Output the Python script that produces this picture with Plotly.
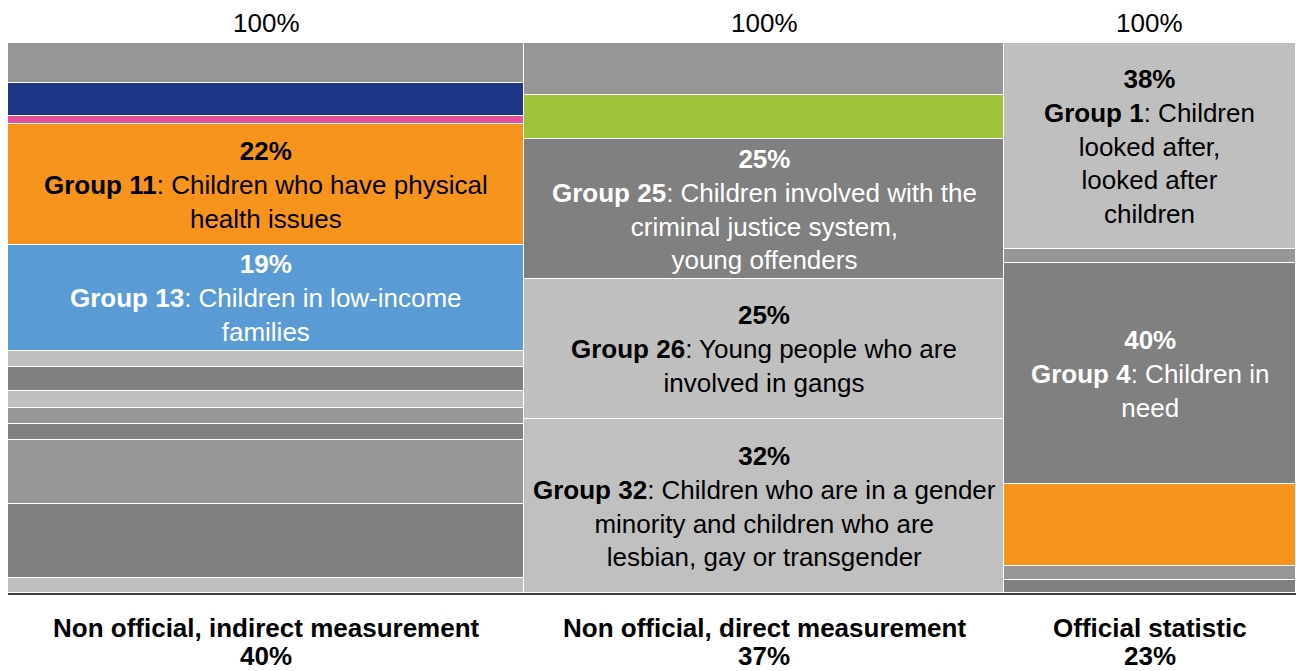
import plotly.graph_objects as go

# ---- data ----
columns = ["Non official, indirect measurement", "Non official, direct measurement", "Official statistic"]
column_widths = [40.1, 37.2, 22.7]
column_labels = ["40%", "37%", "23%"]
column_totals = ["100%", "100%", "100%"]

# segment shares, listed top to bottom
col1_values = [7.3, 6.0, 1.5, 22.0, 19.2, 2.9, 4.4, 3.1, 2.8, 3.0, 11.7, 13.4, 2.7]
col2_values = [9.5, 8.0, 25.4, 25.5, 31.6]
col3_values = [37.5, 2.5, 40.2, 14.9, 2.5, 2.4]

MID, DARK, LIGHT = "#969696", "#808080", "#BFBFBF"
col1_colors = [MID, "#1F3687", "#E5509B", "#F7941E", "#5B9BD5", LIGHT, DARK, LIGHT, MID, DARK, MID, DARK, LIGHT]
col2_colors = [MID, "#9DC43A", DARK, LIGHT, "#C0C0C0"]
col3_colors = [LIGHT, MID, DARK, "#F7941E", MID, DARK]

col1_labels = ["", "", "",
               "<b>22%</b><br><b>Group 11</b>: Children who have physical<br>health issues",
               "<b>19%</b><br><b>Group 13</b>: Children in low-income<br>families",
               "", "", "", "", "", "", "", ""]
col2_labels = ["", "",
               "<b>25%</b><br><b>Group 25</b>: Children involved with the<br>criminal justice system,<br>young offenders",
               "<b>25%</b><br><b>Group 26</b>: Young people who are<br>involved in gangs",
               "<b>32%</b><br><b>Group 32</b>: Children who are in a gender<br>minority and children who are<br>lesbian, gay or transgender"]
col3_labels = ["<b>38%</b><br><b>Group 1</b>: Children<br>looked after,<br>looked after<br>children",
               "",
               "<b>40%</b><br><b>Group 4</b>: Children in<br>need",
               "", "", ""]

col1_label_colors = ["black"] * 4 + ["white"] + ["black"] * 8
col2_label_colors = ["black", "black", "white", "black", "black"]
col3_label_colors = ["black", "black", "white", "black", "black", "black"]

all_values = [col1_values, col2_values, col3_values]
all_colors = [col1_colors, col2_colors, col3_colors]
all_labels = [col1_labels, col2_labels, col3_labels]
all_label_colors = [col1_label_colors, col2_label_colors, col3_label_colors]

FONT = "Liberation Sans, Arial, sans-serif"
FS = 26

fig = go.Figure()
annotations = []

left = 0.0
for ci, w in enumerate(column_widths):
    center = left + w / 2
    top = 100.0
    for val, col, lab, lc in zip(all_values[ci], all_colors[ci], all_labels[ci], all_label_colors[ci]):
        base = top - val
        fig.add_trace(go.Bar(
            x=[center], y=[val], base=[base], width=[w],
            marker=dict(color=col, line=dict(color="white", width=1)),
            showlegend=False, hoverinfo="skip",
        ))
        if lab:
            annotations.append(dict(
                x=center, y=base + val / 2, xref="x", yref="y",
                text=lab, showarrow=False, align="center",
                font=dict(family=FONT, size=FS, color=lc),
            ))
        top = base
    annotations.append(dict(
        x=center, y=100, xref="x", yref="y", yanchor="bottom", yshift=3,
        text=column_totals[ci], showarrow=False,
        font=dict(family=FONT, size=FS, color="black"),
    ))
    annotations.append(dict(
        x=center, y=0, xref="x", yref="paper", yanchor="middle", yshift=-35,
        text="<b>" + columns[ci] + "</b>", showarrow=False, borderpad=0,
        font=dict(family=FONT, size=FS, color="black"),
    ))
    annotations.append(dict(
        x=center, y=0, xref="x", yref="paper", yanchor="middle", yshift=-63,
        text="<b>" + column_labels[ci] + "</b>", showarrow=False, borderpad=0,
        font=dict(family=FONT, size=FS, color="black"),
    ))
    left += w

fig.update_layout(
    width=1296, height=671,
    margin=dict(l=8, r=0, t=43, b=78),
    paper_bgcolor="white", plot_bgcolor="white",
    barmode="overlay", bargap=0,
    xaxis=dict(range=[0, 100], showgrid=False, zeroline=False, showticklabels=False,
               showline=True, linecolor="#404040", linewidth=2, fixedrange=True),
    yaxis=dict(range=[0, 100], showgrid=False, zeroline=False, showticklabels=False,
               showline=False, fixedrange=True),
    annotations=annotations,
    font=dict(family=FONT),
)

fig.write_html(
    "out.html",
    config={"displayModeBar": False},
    post_script="document.body.style.margin='0';document.body.style.overflow='hidden';"
                "Plotly.Plots.resize(document.getElementById('{plot_id}'));",
)
